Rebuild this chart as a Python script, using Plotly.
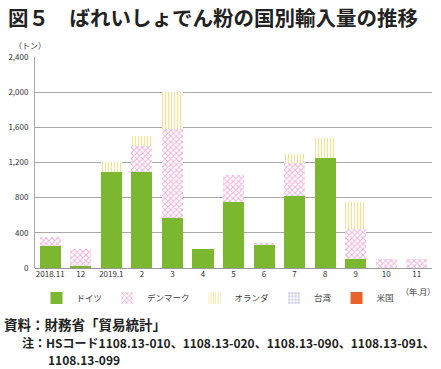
import plotly.graph_objects as go

months = ["2018.11", "12", "2019.1", "2", "3", "4", "5", "6", "7", "8", "9", "10", "11"]
germany = [255, 25, 1095, 1095, 570, 220, 750, 258, 815, 1255, 105, 0, 0]
denmark = [100, 195, 0, 296, 1010, 0, 310, 30, 380, 0, 340, 105, 105]
netherlands = [0, 0, 110, 110, 420, 0, 0, 0, 100, 225, 310, 0, 0]
taiwan = [0, 0, 0, 0, 0, 0, 0, 0, 0, 0, 0, 0, 0]
usa = [0, 0, 0, 0, 0, 0, 0, 0, 0, 0, 0, 0, 0]
y_ticks = [0, 400, 800, 1200, 1600, 2000, 2400]

FONT = "Noto Sans CJK JP"
W, H = 441, 369
L, R, T, B = 35, 9, 57, 101
ph = H - T - B
pw = W - L - R

def py(ypx):
    return (H - B - ypx) / ph

def px(xpx):
    return (xpx - L) / pw

fig = go.Figure()
fig.add_bar(x=months, y=germany, name="ドイツ",
            marker=dict(color="#7cb82f", line=dict(width=0)))
fig.add_bar(x=months, y=denmark, name="デンマーク",
            marker=dict(color="white", line=dict(width=0),
                        pattern=dict(shape="x", fgcolor="#e066b4", bgcolor="white", size=4, solidity=0.45)))
fig.add_bar(x=months, y=netherlands, name="オランダ",
            marker=dict(color="white", line=dict(width=0),
                        pattern=dict(shape="|", fgcolor="#e8c832", bgcolor="white", size=3, solidity=0.4)))
fig.add_bar(x=months, y=taiwan, name="台湾",
            marker=dict(color="white", line=dict(width=0),
                        pattern=dict(shape="+", fgcolor="#4a56a8", bgcolor="white", size=4, solidity=0.3)))
fig.add_bar(x=months, y=usa, name="米国",
            marker=dict(color="#e8632b", line=dict(width=0)))

fig.update_layout(
    width=W, height=H,
    margin=dict(l=L, r=R, t=T, b=B),
    barmode="stack", bargap=0.31,
    paper_bgcolor="white", plot_bgcolor="white",
    font=dict(family=FONT, size=8, color="#333"),
    title=dict(text="<b>図５　ばれいしょでん粉の国別輸入量の推移</b>",
               x=8 / W, xanchor="left", xref="container",
               y=1 - 19 / H, yanchor="middle", yref="container",
               font=dict(family=FONT, size=20.5, color="#222")),
    showlegend=True,
    legend=dict(orientation="h", x=px(218), xanchor="center", y=py(298), yanchor="middle",
                font=dict(family=FONT, size=8.5, color="#444"),
                itemwidth=30, traceorder="normal", tracegroupgap=0),
    xaxis=dict(type="category", showgrid=False, showline=False, ticks="",
               tickfont=dict(size=8, color="#333")),
    yaxis=dict(range=[0, 2400], tickvals=y_ticks, tickformat=",",
               showgrid=True, gridcolor="#a8a8a8", gridwidth=1,
               zeroline=True, zerolinecolor="#999", zerolinewidth=1,
               showline=True, linecolor="#a8a8a8", linewidth=1,
               ticks="", ticklabelstandoff=4,
               tickfont=dict(size=8, color="#333")),
)

fig.add_annotation(text="（トン）", xref="paper", yref="paper", x=px(30), y=py(45),
                   showarrow=False, xanchor="center", yanchor="middle",
                   font=dict(family=FONT, size=8, color="#333"))
fig.add_annotation(text="（年.月）", xref="paper", yref="paper", x=px(437), y=py(291),
                   showarrow=False, xanchor="right", yanchor="middle",
                   font=dict(family=FONT, size=8, color="#333"))
fig.add_annotation(text="<b>資料：財務省「貿易統計」</b>", xref="paper", yref="paper",
                   x=px(2), y=py(324), showarrow=False, xanchor="left", yanchor="middle",
                   font=dict(family=FONT, size=13.5, color="#222"))
fig.add_annotation(text="<b>注：HSコード1108.13-010、1108.13-020、1108.13-090、1108.13-091、</b>",
                   xref="paper", yref="paper",
                   x=px(20), y=py(342), showarrow=False, xanchor="left", yanchor="middle",
                   font=dict(family=FONT, size=12, color="#222"))
fig.add_annotation(text="<b>1108.13-099</b>", xref="paper", yref="paper",
                   x=px(46), y=py(359), showarrow=False, xanchor="left", yanchor="middle",
                   font=dict(family=FONT, size=12, color="#222"))

fig.write_html("out.html", config={"displayModeBar": False},
               post_script="document.body.style.margin='0';document.body.style.overflow='hidden';")
